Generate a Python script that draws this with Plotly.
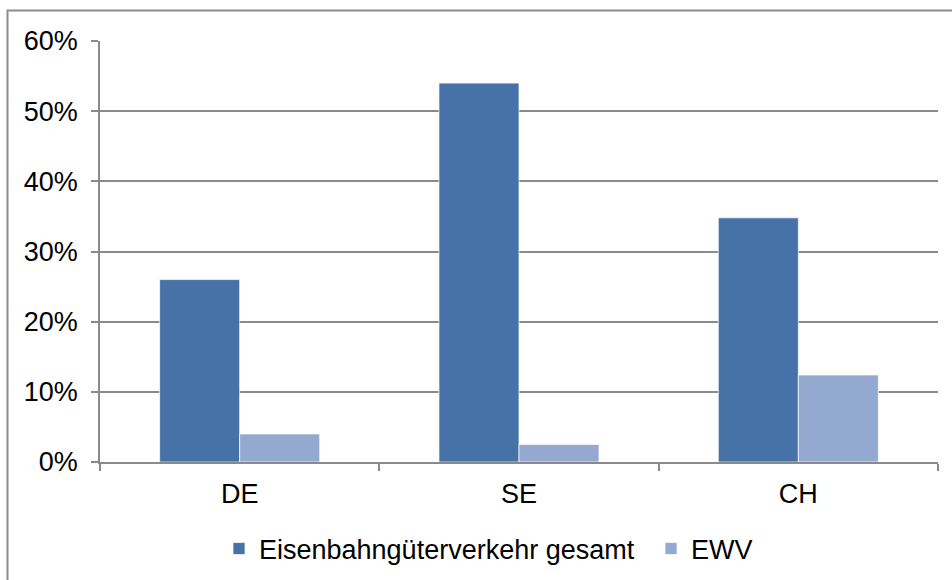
import plotly.graph_objects as go

categories = ["DE", "SE", "CH"]
gesamt = [0.26, 0.54, 0.348]
ewv = [0.04, 0.025, 0.124]
series_names = ["Eisenbahngüterverkehr gesamt", "EWV"]
y_ticks = [0, 0.1, 0.2, 0.3, 0.4, 0.5, 0.6]

FONT = "Liberation Sans, Arial, sans-serif"
GRID = "#8a8a8a"

fig = go.Figure()
fig.add_trace(go.Bar(x=categories, y=gesamt, name=series_names[0], legend="legend",
                     marker=dict(color="#4672A8", line=dict(color="rgba(255,255,255,0.7)", width=1))))
fig.add_trace(go.Bar(x=categories, y=ewv, name=series_names[1], legend="legend2",
                     marker=dict(color="#94A9CF", line=dict(color="rgba(255,255,255,0.7)", width=1))))

legend_common = dict(orientation="h", xref="container", yref="container",
                     xanchor="left", y=(580 - 549) / 580, yanchor="middle",
                     font=dict(size=27), itemwidth=30)

fig.update_layout(
    width=952, height=580,
    margin=dict(l=100, r=14, t=41, b=118, pad=0, autoexpand=False),
    paper_bgcolor="white", plot_bgcolor="white",
    font=dict(family=FONT, size=27, color="black"),
    barmode="group", bargap=0.427, bargroupgap=0,
    showlegend=True,
    legend=dict(x=219 / 952, **legend_common),
    legend2=dict(x=651 / 952, **legend_common),
    xaxis=dict(showline=True, linecolor=GRID, linewidth=1.5, ticks="outside",
               tickson="boundaries", ticklen=7, tickcolor=GRID, tickwidth=1.5,
               showgrid=False, tickfont=dict(size=27), ticklabelstandoff=7,
               automargin=False),
    yaxis=dict(range=[0, 0.6], tickvals=y_ticks, tickformat=".0%",
               showline=True, linecolor=GRID, linewidth=1.5, ticks="outside",
               ticklen=7, tickcolor=GRID, tickwidth=1.5,
               showgrid=True, gridcolor=GRID, gridwidth=1.5,
               zeroline=False, tickfont=dict(size=27), ticklabelstandoff=8,
               automargin=False),
    shapes=[dict(type="rect", xref="paper", yref="paper",
                 x0=(7.5 - 100) / 838, x1=1.05,
                 y0=-0.35, y1=(462 - 10.5) / 421,
                 line=dict(color="#8c8c8c", width=2), layer="below")],
)

fig.write_html("out.html", config={"displayModeBar": False},
               post_script="document.body.style.margin='0';")
